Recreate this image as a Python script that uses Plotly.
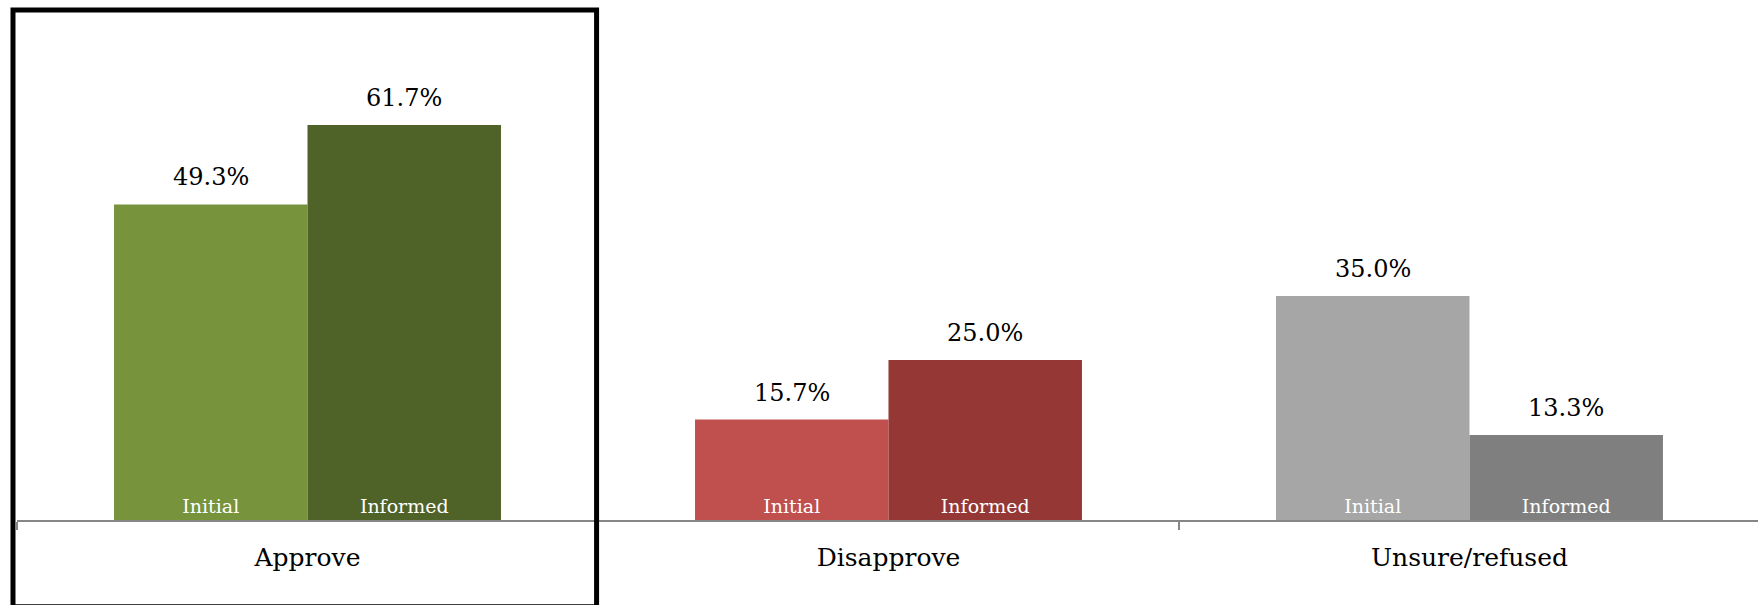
import plotly.graph_objects as go

categories = ["Approve", "Disapprove", "Unsure/refused"]
initial_values = [49.3, 15.7, 35.0]
informed_values = [61.7, 25.0, 13.3]
series_names = ["Initial", "Informed"]
initial_colors = ["#77933C", "#C0504D", "#A6A6A6"]
informed_colors = ["#4F6228", "#953735", "#7F7F7F"]

FONT = "DejaVu Serif"
W, H = 1758, 605
ML, MR, MT, MB = 17, 0, 0, 85
XRANGE = [-0.5, 2.4966]
BARGAP = 0.334

fig = go.Figure()
for name, vals, cols, grp in [
    (series_names[0], initial_values, initial_colors, "a"),
    (series_names[1], informed_values, informed_colors, "b"),
]:
    fig.add_trace(go.Bar(
        x=categories, y=vals, name=name, offsetgroup=grp,
        marker=dict(color=cols, line=dict(width=0)),
        text=[name] * len(vals), textposition="inside",
        insidetextanchor="start", textangle=0,
        textfont=dict(family=FONT, size=19, color="white"),
        hoverinfo="skip", showlegend=False,
    ))

# value labels above bars, placed with the axis scale
plot_w = W - ML - MR
px_per_cat = plot_w / (XRANGE[1] - XRANGE[0])
bar_w_px = px_per_cat * (1 - BARGAP) / 2
annotations = []
for vals, sign in [(initial_values, -1), (informed_values, 1)]:
    for cat, v in zip(categories, vals):
        annotations.append(dict(
            x=cat, y=v, xref="x", yref="y", text=f"{v:.1f}%",
            showarrow=False, yanchor="bottom", xanchor="center",
            xshift=sign * bar_w_px / 2, yshift=11,
            font=dict(family=FONT, size=24, color="black"),
        ))

fig.update_layout(
    width=W, height=H,
    margin=dict(l=ML, r=MR, t=MT, b=MB),
    paper_bgcolor="white", plot_bgcolor="white",
    barmode="group", bargap=BARGAP, bargroupgap=0,
    showlegend=False,
    xaxis=dict(
        range=XRANGE, showgrid=False, zeroline=False,
        showline=True, linecolor="#868686", linewidth=2,
        ticks="outside", tickson="boundaries", ticklen=8, tickwidth=2,
        tickcolor="#868686", ticklabelstandoff=14,
        tickfont=dict(family=FONT, size=25, color="black"),
        fixedrange=True,
    ),
    yaxis=dict(
        range=[0, 81.25], visible=False, showgrid=False, zeroline=False,
        fixedrange=True,
    ),
    annotations=annotations,
    shapes=[dict(
        type="rect", xref="paper", yref="paper",
        x0=-0.0023, x1=0.3329, y0=-0.167, y1=0.9808,
        line=dict(color="black", width=5), fillcolor="rgba(0,0,0,0)",
        layer="above",
    )],
)

fig.write_html(
    "out.html",
    config={"displayModeBar": False},
    post_script="document.body.style.margin='0';document.body.style.overflow='hidden';",
)
